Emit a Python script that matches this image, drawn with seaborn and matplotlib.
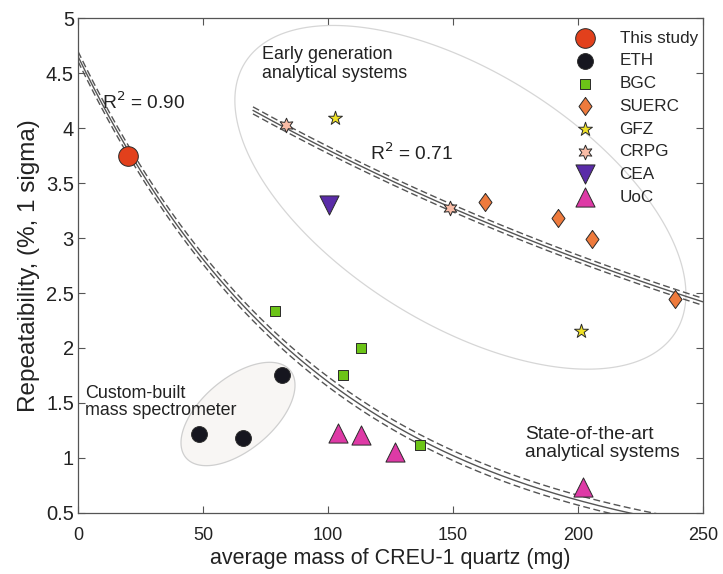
import numpy as np
import pandas as pd
import matplotlib
matplotlib.use("Agg")
import matplotlib.pyplot as plt
import seaborn as sns

# ── data ────────────────────────────────────────────
labs = ["This study", "ETH", "BGC", "SUERC", "GFZ", "CRPG", "CEA", "UoC"]

this_x = [20.0]
this_y = [3.75]
eth_x = [48.5, 66.0, 81.6]
eth_y = [1.22, 1.18, 1.75]
bgc_x = [78.8, 113.2, 106.0, 136.8]
bgc_y = [2.34, 2.00, 1.75, 1.12]
suerc_x = [162.8, 192.0, 205.6, 238.8]
suerc_y = [3.33, 3.18, 2.99, 2.45]
gfz_x = [102.8, 201.2]
gfz_y = [4.09, 2.15]
crpg_x = [83.2, 148.8]
crpg_y = [4.03, 3.27]
cea_x = [100.4]
cea_y = [3.30]
uoc_x = [104.0, 113.2, 126.8, 202.0]
uoc_y = [1.23, 1.21, 1.05, 0.74]

# exponential fits y = A*exp(-B*x)
fit1_A, fit1_B, fit1_ci = 4.65, 0.0101, 0.045
fit2_A, fit2_B, fit2_ci = 5.136, 0.00301, 0.032

# a fatter diamond than matplotlib's 'd'
diamond = [(0, 1), (0.72, 0), (0, -1), (-0.72, 0), (0, 1)]

colors = {"This study": "#e2401c", "ETH": "#16161f", "BGC": "#6cc417",
          "SUERC": "#ee7a3c", "GFZ": "#f0e226", "CRPG": "#f9bca6",
          "CEA": "#5a2ca8", "UoC": "#de3aa6"}
markers = {"This study": "o", "ETH": "o", "BGC": "s", "SUERC": diamond,
           "GFZ": "*", "CRPG": (6, 1, 0), "CEA": "v", "UoC": "^"}
sizes = {"This study": 200, "ETH": 130, "BGC": 60, "SUERC": 170,
         "GFZ": 110, "CRPG": 110, "CEA": 190, "UoC": 190}

rows = []
for lab, xs, ys in zip(labs,
                       [this_x, eth_x, bgc_x, suerc_x, gfz_x, crpg_x, cea_x, uoc_x],
                       [this_y, eth_y, bgc_y, suerc_y, gfz_y, crpg_y, cea_y, uoc_y]):
    for x, y in zip(xs, ys):
        rows.append({"lab": lab, "mass": x, "rep": y})
df = pd.DataFrame(rows)

# ── figure ──────────────────────────────────────────
sns.set_theme(style="white")
plt.rcParams["font.family"] = ["Liberation Sans", "DejaVu Sans"]

W, H = 7.23, 5.74
fig, ax = plt.subplots(figsize=(W, H), dpi=100)
L, R, B, T = 0.108, 0.972, 0.1063, 0.9686
fig.subplots_adjust(left=L, right=R, bottom=B, top=T)

XMAX, YMIN, YMAX = 250, 0.5, 5
px_x = W * 100 * (R - L) / XMAX
px_y = H * 100 * (T - B) / (YMAX - YMIN)


def ellipse(cx, cy, a, b, ang):
    t = np.linspace(0, 2 * np.pi, 300)
    th = np.deg2rad(ang)
    dx = a * np.cos(t) * np.cos(th) - b * np.sin(t) * np.sin(th)
    dy = a * np.cos(t) * np.sin(th) + b * np.sin(t) * np.cos(th)
    return cx + dx / px_x, cy + dy / px_y


# grouping outlines
ex, ey = ellipse(153.0, 3.37, 254, 126, -32)
ax.fill(ex, ey, facecolor="white", edgecolor="#d6d6d6", lw=0.9, zorder=1)
ex, ey = ellipse(64, 1.40, 68, 36, 40)
ax.fill(ex, ey, facecolor="#f8f6f4", edgecolor="#cfcfcf", lw=0.9, zorder=1)

# fit curves with confidence bands
x1 = np.linspace(0, 235, 300)
y1 = fit1_A * np.exp(-fit1_B * x1)
x2 = np.linspace(70, 250, 300)
y2 = fit2_A * np.exp(-fit2_B * x2)
for xx, yy, ci in [(x1, y1, fit1_ci), (x2, y2, fit2_ci)]:
    sns.lineplot(x=xx, y=yy, ax=ax, color="#555555", lw=1.0, zorder=2)
    for sgn in (-1, 1):
        ax.plot(xx, yy + sgn * ci, color="#555555", lw=1.0,
                ls=(0, (5, 2.5)), zorder=2)

for lab in labs:
    sub = df[df["lab"] == lab]
    sns.scatterplot(data=sub, x="mass", y="rep", ax=ax, label=lab,
                    color=colors[lab], marker=markers[lab], s=sizes[lab],
                    edgecolor="#2a2a2a", linewidth=0.7, zorder=4)

ax.set_xlim(0, XMAX)
ax.set_ylim(YMIN, YMAX)
ax.set_xticks([0, 50, 100, 150, 200, 250])
ax.set_yticks([0.5, 1, 1.5, 2, 2.5, 3, 3.5, 4, 4.5, 5])
ax.set_yticklabels(["0.5", "1", "1.5", "2", "2.5", "3", "3.5", "4", "4.5", "5"])
ax.tick_params(direction="in", length=5, width=0.8, color="#555555",
               labelcolor="#222222", top=True, right=True,
               bottom=True, left=True)
ax.tick_params(axis="x", labelsize=13, pad=10)
ax.tick_params(axis="y", labelsize=14.5, pad=3)
for sp in ax.spines.values():
    sp.set_color("#555555")
    sp.set_linewidth(0.9)

ax.set_xlabel("average mass of CREU-1 quartz (mg)", fontsize=15.5,
              color="#222222", labelpad=3)
ax.set_ylabel("Repeataibility, (%, 1 sigma)", fontsize=17.5,
              color="#222222", labelpad=4)

txt = dict(fontsize=12.9, color="#222222", zorder=5)
ax.text(73.6, 4.58, "Early generation\nanalytical systems", va="center",
        ha="left", linespacing=1.15, **txt)
ax.text(2.8, 1.51, "Custom-built\nmass spectrometer", va="center", ha="left",
        linespacing=1.05, **txt)
ax.text(178.8, 1.13, "State-of-the-art\nanalytical systems", va="center",
        ha="left", linespacing=1.1, fontsize=13.8, color="#222222", zorder=5)
ax.text(9.6, 4.23, "R$^2$ = 0.90", va="center", ha="left", fontsize=13.8,
        color="#222222", zorder=5)
ax.text(116.8, 3.77, "R$^2$ = 0.71", va="center", ha="left", fontsize=13.8,
        color="#222222", zorder=5)

ax.legend(loc="upper right", bbox_to_anchor=(1.003, 0.988), frameon=False,
          fontsize=12.3, labelspacing=0.45, handletextpad=1.0,
          borderaxespad=0.0, markerscale=1.0)

fig.savefig("out.png", dpi=100)
